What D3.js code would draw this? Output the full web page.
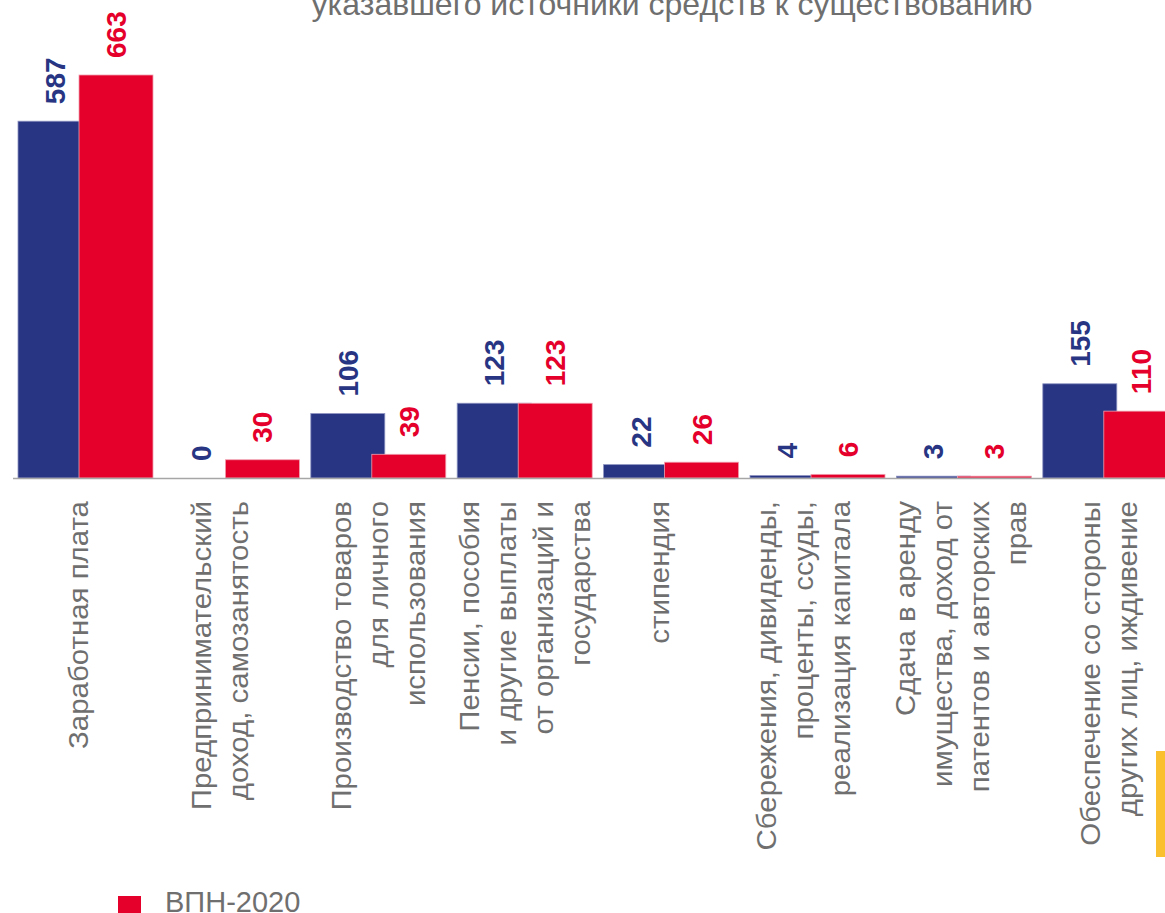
<!DOCTYPE html>
<html>
<head>
<meta charset="utf-8">
<script src="https://cdn.jsdelivr.net/npm/d3@7"></script>
<style>
  body { margin: 0; background: #fff; }
  svg { display: block; font-family: "Liberation Sans", Arial, sans-serif; }
</style>
</head>
<body>
<div id="chart"></div>
<script>
// data
var categories = [
  ['Заработная плата'],
  ['Предпринимательский', 'доход, самозанятость'],
  ['Производство товаров', 'для личного', 'использования'],
  ['Пенсии, пособия', 'и другие выплаты', 'от организаций и', 'государства'],
  ['стипендия'],
  ['Сбережения, дивиденды,', 'проценты, ссуды,', 'реализация капитала'],
  ['Сдача в аренду', 'имущества, доход от', 'патентов и авторских', 'прав'],
  ['Обеспечение со стороны', 'других лиц, иждивение']
];
var series = ['ВПН-2010', 'ВПН-2020'];
var values2010 = [587, 0, 106, 123, 22, 4, 3, 155];
var values2020 = [663, 30, 39, 123, 26, 6, 3, 110];
var titleText = 'указавшего источники средств к существованию';

var colors = { 'ВПН-2010': '#283583', 'ВПН-2020': '#e4002b' };
var strokes = { 'ВПН-2010': '#8c93c0', 'ВПН-2020': '#f0a0b0' };

var W = 1165, H = 913,
    baseY = 478,
    step = 146.4,
    left = 18,
    barW = 74;

// the source text boxes sit a little off-centre for some categories
var labelNudge = [-7, -12, 0, 0, -12, -14, -3, -2];

var svg = d3.select('#chart').append('svg')
  .attr('width', W)
  .attr('height', H);

var x0 = d3.scaleBand()
  .domain(d3.range(categories.length))
  .range([left, left + step * categories.length]);

var x1 = d3.scalePoint()
  .domain(series)
  .range([0, 61]);

var y = d3.scaleLinear()
  .domain([0, d3.max(values2020.concat(values2010))])
  .range([baseY, 75]);

var rows = series.map(function(s, si) {
  var vals = si === 0 ? values2010 : values2020;
  return vals.map(function(v, i) { return { s: s, i: i, v: v }; });
});

// title (only its second line is inside the picture)
svg.append('text')
  .attr('x', 672)
  .attr('y', 15)
  .attr('text-anchor', 'middle')
  .style('font-size', '32px')
  .style('fill', '#6f6f6f')
  .text(titleText);

// bars
rows.forEach(function(row) {
  svg.append('g').selectAll('rect')
    .data(row.filter(function(d) { return d.v > 0; }))
    .enter().append('rect')
      .attr('x', function(d) { return x0(d.i) + x1(d.s); })
      .attr('y', function(d) { return y(d.v); })
      .attr('width', barW)
      .attr('height', function(d) { return baseY - y(d.v); })
      .style('fill', function(d) { return colors[d.s]; })
      .style('stroke', function(d) { return strokes[d.s]; })
      .style('stroke-width', 0.8);
});

// axis line
svg.append('line')
  .attr('x1', 13).attr('x2', W)
  .attr('y1', baseY + 0.5).attr('y2', baseY + 0.5)
  .style('stroke', '#a6a6a6')
  .style('stroke-width', 1.5);

// value labels
rows.forEach(function(row) {
  svg.append('g').selectAll('text')
    .data(row)
    .enter().append('text')
      .attr('transform', function(d) {
        var cx = x0(d.i) + x1(d.s) + barW / 2;
        return 'translate(' + cx + ',' + (y(d.v) - 17) + ')rotate(-90)';
      })
      .attr('dy', '0.36em')
      .attr('text-anchor', 'start')
      .style('font-size', '28px')
      .style('font-weight', 'bold')
      .style('fill', function(d) { return colors[d.s]; })
      .text(function(d) { return d.v; });
});

// category labels
var lineGap = 37;
var cats = svg.append('g').selectAll('g')
  .data(categories)
  .enter().append('g');

cats.each(function(lines, i) {
  var cx = x0(i) + (x1(series[1]) + barW) / 2 + labelNudge[i];
  d3.select(this).selectAll('text')
    .data(lines)
    .enter().append('text')
      .attr('transform', function(d, li) {
        var lx = cx + (li - (lines.length - 1) / 2) * lineGap;
        return 'translate(' + lx + ',501)rotate(-90)scale(1.09,1)';
      })
      .attr('dy', '0.36em')
      .attr('text-anchor', 'end')
      .style('font-size', '27px')
      .style('fill', '#6f6f6f')
      .text(function(d) { return d; });
});

// legend (only the visible entry)
var legend = svg.append('g').attr('transform', 'translate(118,896)');
legend.append('rect')
  .attr('width', 23).attr('height', 17)
  .style('fill', colors['ВПН-2020']);
legend.append('text')
  .attr('x', 47).attr('y', 16)
  .style('font-size', '29px')
  .style('fill', '#6f6f6f')
  .text(series[1]);

// yellow accent bar at the right edge
svg.append('rect')
  .attr('x', 1156).attr('y', 751)
  .attr('width', 9).attr('height', 106)
  .style('fill', '#fbc02d');
</script>
</body>
</html>
